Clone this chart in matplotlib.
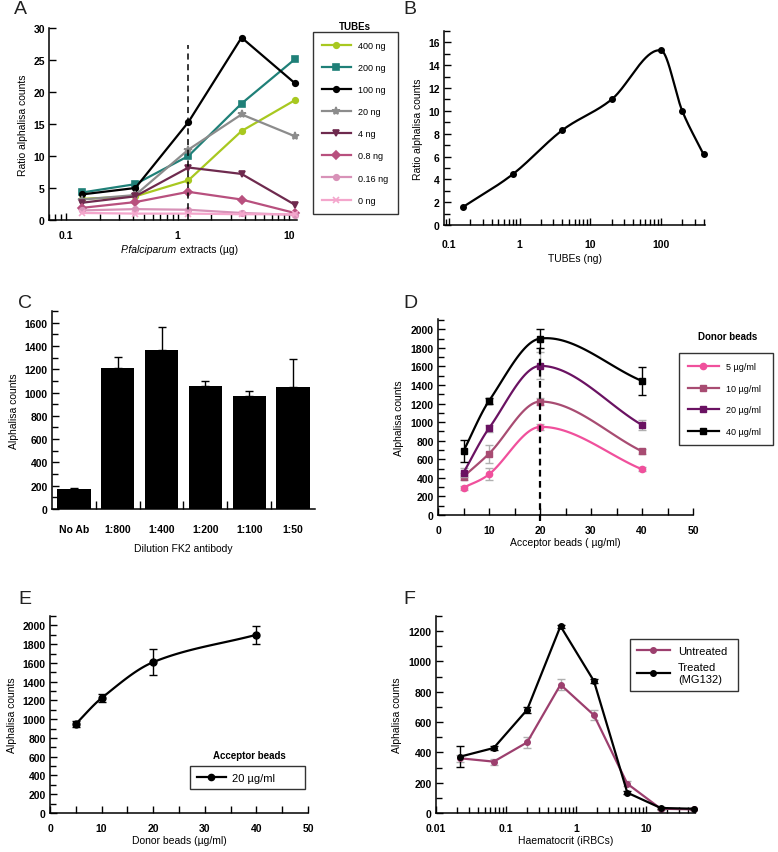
import numpy as np
import matplotlib
matplotlib.use("Agg")
import matplotlib.pyplot as plt
from matplotlib.ticker import MultipleLocator, FixedLocator, FuncFormatter, LogLocator, NullFormatter

plt.rcParams['font.family'] = ['Liberation Sans', 'DejaVu Sans']
plt.rcParams['font.size'] = 7.5

# ---- Panel A data ----
pf_extract = [0.139, 0.417, 1.25, 3.75, 11.25]
tube_labels = ['400 ng', '200 ng', '100 ng', '20 ng', '4 ng', '0.8 ng', '0.16 ng', '0 ng']
tube_ratio = [
    [3.3, 3.7, 6.2, 13.9, 18.7],
    [4.3, 5.6, 10.0, 18.2, 25.1],
    [4.0, 5.0, 15.3, 28.5, 21.4],
    [3.2, 3.9, 11.0, 16.5, 13.1],
    [2.7, 3.7, 8.2, 7.2, 2.4],
    [1.9, 2.8, 4.4, 3.2, 1.1],
    [1.5, 1.7, 1.6, 1.1, 0.8],
    [1.1, 1.0, 1.0, 0.9, 0.9],
]
tube_colors = ['#a8c820', '#1f8078', '#000000', '#8c8c8c', '#6e2a4e', '#b8507e', '#d892b8', '#f4a6cc']
tube_markers = ['o', 's', 'o', '*', 'v', 'D', 'o', 'x']
a_dash_top = 27.4

# ---- Panel B data ----
tubes_ng = [0.16, 0.8, 4, 20, 100, 200, 400]
tubes_ratio = [1.6, 4.45, 8.3, 11.0, 15.3, 10.0, 6.2]

# ---- Panel C data ----
dilutions = ['No Ab', '1:800', '1:400', '1:200', '1:100', '1:50']
fk2_counts = [168, 1214, 1363, 1057, 974, 1051]
fk2_err = [14, 95, 200, 46, 35, 240]

# ---- Panel D data ----
acceptor = [5, 10, 20, 40]
donor_labels = ['5 µg/ml', '10 µg/ml', '20 µg/ml', '40 µg/ml']
donor_counts = [
    [294, 438, 948, 492],
    [413, 660, 1221, 686],
    [456, 934, 1605, 969],
    [689, 1228, 1899, 1443],
]
donor_err = [
    [20, 65, 30, 20],
    [40, 95, 40, 25],
    [50, 40, 145, 50],
    [120, 30, 100, 155],
]
donor_colors = ['#f0509c', '#a84c72', '#6a1262', '#000000']
donor_markers = ['o', 's', 's', 's']

# ---- Panel E data ----
donor = [5, 10, 20, 40]
e_counts = [949, 1225, 1608, 1900]
e_err = [30, 45, 140, 97]

# ---- Panel F data ----
haematocrit = [0.0222, 0.0667, 0.2, 0.6, 1.8, 5.4, 16.2, 48.6]
untreated = [361, 339, 466, 847, 646, 193, 28, 24]
untreated_err = [25, 20, 35, 35, 35, 15, 5, 5]
treated = [372, 429, 681, 1233, 871, 134, 33, 28]
treated_err = [70, 10, 20, 10, 10, 10, 5, 5]
f_labels = ['Untreated', 'Treated\n(MG132)']

W, H = 778, 853
fig = plt.figure(figsize=(W / 100, H / 100), dpi=100)


def add_ax(left, top, right, bottom):
    return fig.add_axes([left / W, 1 - bottom / H, (right - left) / W, (bottom - top) / H])


def fig_box(left, top, right, bottom):
    # legend anchor box in figure fraction
    return (left / W, 1 - bottom / H, (right - left) / W, (bottom - top) / H)


def style(ax):
    for s in ['top', 'right']:
        ax.spines[s].set_visible(False)
    for s in ['left', 'bottom']:
        ax.spines[s].set_linewidth(1.1)
    ax.tick_params(which='both', direction='in', width=1.0, labelsize=7.5)
    ax.tick_params(which='major', length=5)
    ax.tick_params(which='minor', length=4)
    ax.tick_params(axis='x', pad=7)
    ax.tick_params(axis='y', pad=3)
    for lab in ax.get_xticklabels() + ax.get_yticklabels():
        lab.set_fontweight('bold')


def smooth(x, y, n=40, logx=False):
    """Cubic Hermite curve through the points (Catmull-Rom style slopes)."""
    x = np.log10(x) if logx else np.asarray(x, float)
    y = np.asarray(y, float)
    m = np.empty_like(y)
    m[1:-1] = (y[2:] - y[:-2]) / (x[2:] - x[:-2])
    m[0] = (y[1] - y[0]) / (x[1] - x[0])
    m[-1] = (y[-1] - y[-2]) / (x[-1] - x[-2])
    xs, ys = [], []
    t = np.linspace(0, 1, n)
    for i in range(len(x) - 1):
        h = x[i + 1] - x[i]
        h00 = 2 * t**3 - 3 * t**2 + 1
        h10 = t**3 - 2 * t**2 + t
        h01 = -2 * t**3 + 3 * t**2
        h11 = t**3 - t**2
        xs.append(x[i] + t * h)
        ys.append(h00 * y[i] + h10 * h * m[i] + h01 * y[i + 1] + h11 * h * m[i + 1])
    xs = np.concatenate(xs)
    ys = np.concatenate(ys)
    return (10**xs if logx else xs), ys


log_fmt = FuncFormatter(lambda v, p: ('%g' % v))


def boxed_legend(ax, handles, labels, box, fontsize, **kw):
    leg = ax.legend(handles, labels, loc='upper left', bbox_to_anchor=fig_box(*box),
                    bbox_transform=fig.transFigure, mode='expand', fontsize=fontsize, frameon=True,
                    fancybox=False, edgecolor='black', borderaxespad=0, **kw)
    leg.get_frame().set_linewidth(1.0)
    return leg


# ================= A =================
axA = add_ax(49, 29, 297, 221)
a_handles = []
for vals, lab, col, mk in zip(tube_ratio, tube_labels, tube_colors, tube_markers):
    ms = 6 if mk == '*' else 4
    h, = axA.plot(pf_extract, vals, color=col, marker=mk, ms=ms, lw=1.6, label=lab, mew=1.2, clip_on=False)
    a_handles.append(h)
axA.plot([pf_extract[2], pf_extract[2]], [0, a_dash_top], color='black', ls=(0, (4, 3)), lw=1.1)
axA.set_xscale('log')
axA.set_xlim(0.07, 11.8)
axA.set_ylim(0, 30)
axA.yaxis.set_major_locator(MultipleLocator(5))
axA.xaxis.set_major_locator(FixedLocator([0.1, 1, 10]))
axA.xaxis.set_major_formatter(log_fmt)
axA.xaxis.set_minor_locator(LogLocator(base=10, subs=np.arange(2, 10)))
axA.xaxis.set_minor_formatter(NullFormatter())
style(axA)
axA.set_ylabel('Ratio alphalisa counts', fontsize=7.5, labelpad=4)
# x label: italic species name followed by plain text
fig.text(177 / W, 1 - 250 / H, 'P.falciparum', fontsize=7.5, style='italic', ha='right', va='center')
fig.text(177 / W, 1 - 250 / H, ' extracts (µg)', fontsize=7.5, ha='left', va='center')
boxed_legend(axA, a_handles, tube_labels, (313, 33, 398, 215), 6.5, labelspacing=1.45,
             handlelength=3.2, borderpad=1.0)
fig.text(355 / W, 1 - 27 / H, 'TUBEs', fontsize=7, fontweight='bold', ha='center', va='center')

# ================= B =================
axB = add_ax(444, 32, 705, 226)
bx, by = smooth(tubes_ng, tubes_ratio, logx=True)
axB.plot(bx, by, color='black', lw=1.6)
axB.plot(tubes_ng, tubes_ratio, 'o', color='black', ms=4, clip_on=False)
axB.set_xscale('log')
axB.set_xlim(0.085, 420)
axB.set_ylim(0, 17)
axB.yaxis.set_major_locator(MultipleLocator(2))
axB.yaxis.set_minor_locator(MultipleLocator(1))
axB.xaxis.set_major_locator(FixedLocator([0.1, 1, 10, 100]))
axB.xaxis.set_major_formatter(log_fmt)
axB.xaxis.set_minor_locator(LogLocator(base=10, subs=np.arange(2, 10)))
axB.xaxis.set_minor_formatter(NullFormatter())
style(axB)
axB.tick_params(axis='x', pad=10)
axB.set_ylabel('Ratio alphalisa counts', fontsize=7.5, labelpad=4)
axB.set_xlabel('TUBEs (ng)', fontsize=7.5, labelpad=3)

# ================= C =================
axC = add_ax(52, 312, 315, 510)
pos = np.arange(len(dilutions))
axC.bar(pos, fk2_counts, width=0.76, color='black')
axC.errorbar(pos, fk2_counts, yerr=[np.zeros(len(fk2_err)), fk2_err], fmt='none', ecolor='black',
             elinewidth=1.0, capsize=3, capthick=1.0)
axC.set_xlim(-0.5, 5.5)
axC.set_ylim(0, 1700)
axC.yaxis.set_major_locator(MultipleLocator(200))
axC.yaxis.set_minor_locator(MultipleLocator(100))
axC.set_xticks(pos)
axC.set_xticklabels(dilutions)
axC.xaxis.set_minor_locator(FixedLocator(pos[:-1] + 0.5))
style(axC)
axC.tick_params(axis='x', which='major', length=0, pad=11)
axC.tick_params(axis='x', which='minor', length=6)
axC.set_ylabel('Alphalisa counts', fontsize=7.5, labelpad=4)
axC.set_xlabel('Dilution FK2 antibody', fontsize=7.5, labelpad=6)

# ================= D =================
axD = add_ax(438, 320, 693, 516)
d_handles = []
for vals, errs, lab, col, mk in zip(donor_counts, donor_err, donor_labels, donor_colors, donor_markers):
    sx, sy = smooth(acceptor, vals)
    ecol = 'black' if col == '#000000' else '#b0b0b0'
    axD.errorbar(acceptor, vals, yerr=errs, fmt='none', ecolor=ecol, elinewidth=1.0, capsize=3, capthick=1.0)
    axD.plot(sx, sy, color=col, lw=1.6)
    axD.plot(acceptor, vals, ls='none', marker=mk, color=col, ms=4.5)
    d_handles.append(plt.Line2D([], [], color=col, marker=mk, ms=4.5, lw=1.6))
axD.plot([acceptor[2], acceptor[2]], [-60, donor_counts[3][2]], color='black', ls=(0, (3, 2)), lw=1.6,
         clip_on=False)
axD.set_xlim(0, 50)
axD.set_ylim(0, 2110)
axD.yaxis.set_major_locator(MultipleLocator(200))
axD.yaxis.set_minor_locator(MultipleLocator(100))
axD.xaxis.set_major_locator(MultipleLocator(10))
axD.xaxis.set_minor_locator(MultipleLocator(5))
style(axD)
axD.tick_params(axis='x', which='both', length=5)
axD.set_ylabel('Alphalisa counts', fontsize=7.5, labelpad=5)
axD.set_xlabel('Acceptor beads ( µg/ml)', fontsize=7.5, labelpad=2)
boxed_legend(axD, d_handles, donor_labels, (679, 354, 773, 447), 6.5, labelspacing=1.4,
             handlelength=3.4, borderpad=1.0)
fig.text(728 / W, 1 - 337 / H, 'Donor beads', fontsize=7, fontweight='bold', ha='center', va='center')

# ================= E =================
axE = add_ax(50, 617, 308, 814)
ex, ey = smooth(donor, e_counts)
axE.errorbar(donor, e_counts, yerr=e_err, fmt='none', ecolor='black', elinewidth=1.0, capsize=3, capthick=1.0)
axE.plot(ex, ey, color='black', lw=1.6)
axE.plot(donor, e_counts, 'o', color='black', ms=5)
axE.set_xlim(0, 50)
axE.set_ylim(0, 2100)
axE.yaxis.set_major_locator(MultipleLocator(200))
axE.yaxis.set_minor_locator(MultipleLocator(100))
axE.xaxis.set_major_locator(MultipleLocator(10))
axE.xaxis.set_minor_locator(MultipleLocator(5))
style(axE)
axE.tick_params(axis='x', which='both', length=5)
axE.set_ylabel('Alphalisa counts', fontsize=7.5, labelpad=4)
axE.set_xlabel('Donor beads (µg/ml)', fontsize=7.5, labelpad=2)
e_handle = plt.Line2D([], [], color='black', marker='o', ms=4.5, lw=1.6)
boxed_legend(axE, [e_handle], ['20 µg/ml'], (190, 767, 305, 795), 8, handlelength=2.6,
             borderpad=0.6, handletextpad=0.6)
fig.text(249 / W, 1 - 756 / H, 'Acceptor beads', fontsize=7, fontweight='bold', ha='center', va='center')

# ================= F =================
axF = add_ax(436, 617, 695, 814)
axF.errorbar(haematocrit, untreated, yerr=untreated_err, fmt='none', ecolor='#b0b0b0', elinewidth=1.0,
             capsize=3, capthick=1.0)
axF.errorbar(haematocrit, treated, yerr=treated_err, fmt='none', ecolor='black', elinewidth=1.0,
             capsize=3, capthick=1.0)
hu, = axF.plot(haematocrit, untreated, '-o', color='#9c3f6e', ms=4, lw=1.6, clip_on=False)
ht, = axF.plot(haematocrit, treated, '-o', color='black', ms=4, lw=1.6, clip_on=False)
axF.set_xscale('log')
axF.set_xlim(0.01, 50)
axF.set_ylim(0, 1300)
axF.yaxis.set_major_locator(MultipleLocator(200))
axF.yaxis.set_minor_locator(MultipleLocator(100))
axF.xaxis.set_major_locator(FixedLocator([0.01, 0.1, 1, 10]))
axF.xaxis.set_major_formatter(log_fmt)
axF.xaxis.set_minor_locator(LogLocator(base=10, subs=np.arange(2, 10)))
axF.xaxis.set_minor_formatter(NullFormatter())
style(axF)
axF.set_ylabel('Alphalisa counts', fontsize=7.5, labelpad=5)
axF.set_xlabel('Haematocrit (iRBCs)', fontsize=7.5, labelpad=2)
boxed_legend(axF, [hu, ht], f_labels, (630, 640, 738, 698), 8, handlelength=3.0,
             borderpad=0.6, labelspacing=0.6, handletextpad=0.7)

# panel letters
for letter, (px, py) in zip('ABCDEF', [(14, 9), (403, 9), (18, 303), (403, 303), (18, 600), (403, 600)]):
    fig.text(px / W, 1 - py / H, letter, fontsize=14, ha='left', va='center', color='#222222')

fig.savefig('out.png', dpi=100)
